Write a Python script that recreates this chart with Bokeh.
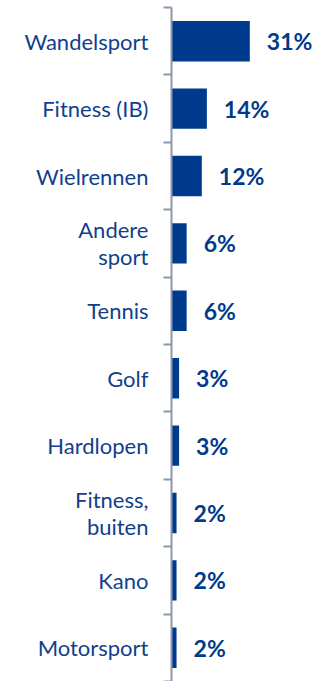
from bokeh.plotting import figure
from bokeh.models import Range1d, LinearAxis, FixedTicker, ColumnDataSource
from bokeh.embed import file_html
from bokeh.resources import INLINE
from bokeh.core.properties import value

categories = ["Wandelsport", "Fitness (IB)", "Wielrennen", "Andere\nsport", "Tennis",
              "Golf", "Hardlopen", "Fitness,\nbuiten", "Kano", "Motorsport"]
values = [31, 14, 12, 6, 6, 3, 3, 2, 2, 2]
value_labels = ["31%", "14%", "12%", "6%", "6%", "3%", "3%", "2%", "2%", "2%"]

BLUE = "#003A8C"
TEXT = "#123F8C"
AXIS = "#8C96AE"

n = len(categories)
idx = list(range(n))
centers = [i + 0.5 for i in idx]

src = ColumnDataSource(dict(y=centers, v=values, lab=value_labels))

p = figure(width=315, height=681, output_backend="svg", toolbar_location=None,
           x_range=Range1d(0, 57), y_range=Range1d(n, 0),
           min_border_left=171, min_border_right=0, min_border_top=7, min_border_bottom=0,
           y_axis_location=None, x_axis_location=None)
p.outline_line_color = None
p.grid.visible = False
p.background_fill_color = None
p.border_fill_color = None

p.hbar(y="y", right="v", left=0, height=0.6, source=src, fill_color=BLUE, line_color=None)
p.text(x="v", y="y", text="lab", source=src, x_offset=17, text_align="left",
       text_baseline="middle", text_font=value("Lato"), text_font_style="bold",
       text_font_size="23px", text_color=BLUE)

yaxis = LinearAxis(ticker=FixedTicker(ticks=centers, minor_ticks=list(range(n + 1))))
yaxis.major_label_overrides = {c: categories[i] for i, c in enumerate(centers)}
yaxis.major_tick_out = 0
yaxis.major_tick_in = 0
yaxis.minor_tick_out = 8
yaxis.minor_tick_in = 0
yaxis.minor_tick_line_color = AXIS
yaxis.minor_tick_line_width = 2
yaxis.axis_line_color = AXIS
yaxis.axis_line_width = 2
yaxis.major_label_standoff = 15
yaxis.major_label_text_font = "Lato"
yaxis.major_label_text_font_size = "22px"
yaxis.major_label_text_color = TEXT
yaxis.major_label_text_align = "right"
yaxis.major_label_text_line_height = 1.0
p.add_layout(yaxis, "left")

open("out.html", "w").write(file_html(p, INLINE))
